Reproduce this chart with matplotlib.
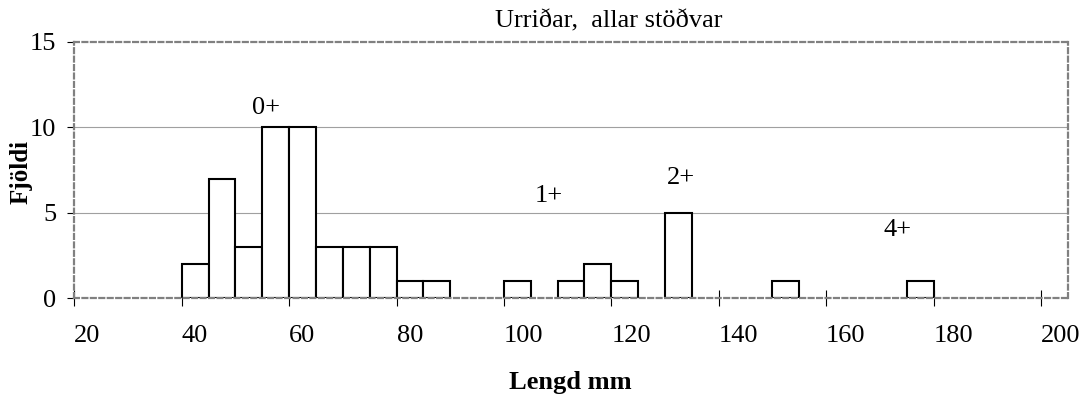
import numpy as np
import matplotlib.pyplot as plt

# Lengdardreifing urriða (5 mm bil)
bin_start = [40, 45, 50, 55, 60, 65, 70, 75, 80, 85, 100, 110, 115, 120, 130, 150, 175]
fjoldi = [2, 7, 3, 10, 10, 3, 3, 3, 1, 1, 1, 1, 2, 1, 5, 1, 1]
bin_width = 5

# Aldurshópar
aldur_label = ['0+', '1+', '2+', '4+']
aldur_x = [55.7, 108.3, 133.0, 173.3]
aldur_y = [11.1, 6.0, 7.06, 4.0]

x_ticks = [20, 40, 60, 80, 100, 120, 140, 160, 180, 200]
y_ticks = [0, 5, 10, 15]

plt.rcParams['font.family'] = ['Liberation Serif', 'DejaVu Serif']

fig = plt.figure(figsize=(10.83, 4.01), dpi=100)
ax = fig.add_axes([0.0686, 0.256, 0.9174, 0.64])

# Grindarlínur
for yv in [0, 5, 10]:
    ax.axhline(yv, color='#a0a0a0', lw=0.8, zorder=0)

ax.bar(bin_start, fjoldi, width=bin_width, align='edge',
       facecolor='white', edgecolor='black', linewidth=1.5, zorder=2)

for lab, xx, yy in zip(aldur_label, aldur_x, aldur_y):
    ax.text(xx, yy, lab, ha='center', va='center', fontsize=19)

ax.set_xlim(20, 205)
ax.set_ylim(0, 15)
ax.set_xticks(x_ticks)
ax.set_yticks(y_ticks)
ax.tick_params(axis='x', direction='inout', length=11, width=0.8,
               labelsize=19, pad=14)
ax.tick_params(axis='y', direction='out', length=5, width=0.8,
               labelsize=19, pad=8)
for lab in ax.get_xticklabels():
    lab.set_ha('left')

for sp in ax.spines.values():
    sp.set_color('#808080')
    sp.set_linewidth(1.6)
    sp.set_linestyle((0, (2.2, 1.6)))
    sp.set_zorder(3)

fig.text(0.562, 0.948, 'Urriðar,  allar stöðvar', ha='center', va='center',
         fontsize=19)
fig.text(0.019, 0.57, 'Fjöldi', ha='center', va='center', rotation=90,
         fontsize=18, fontweight='bold')
fig.text(0.527, 0.045, 'Lengd mm', ha='center', va='center',
         fontsize=19, fontweight='bold')

fig.savefig('out.png', dpi=100)
